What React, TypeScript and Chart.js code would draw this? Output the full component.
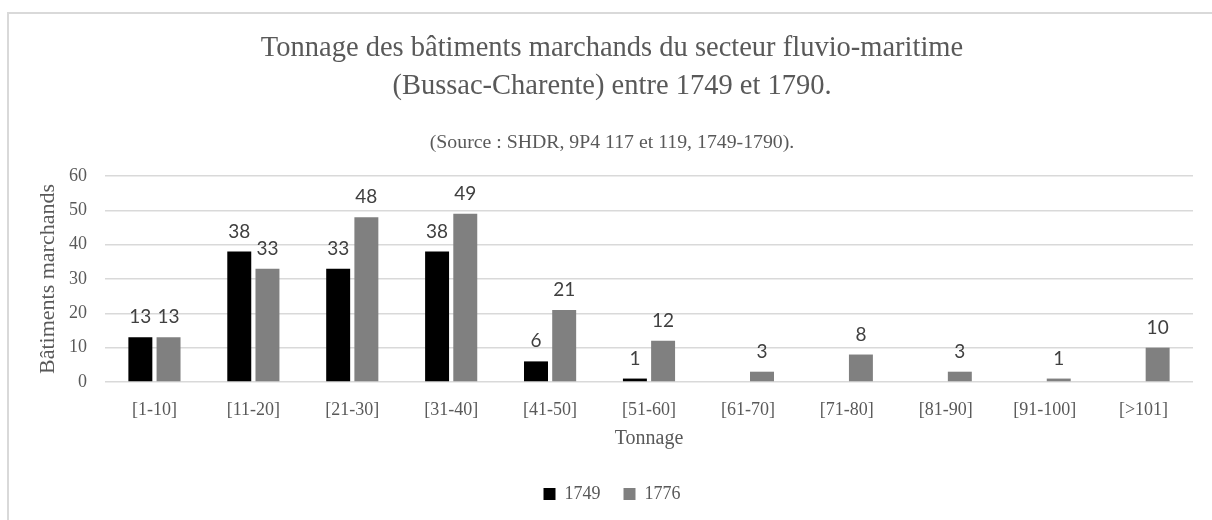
import React, { useEffect, useRef } from "react";
import { Chart, registerables } from "chart.js";

Chart.register(...registerables);

const categories = [
  "[1-10]",
  "[11-20]",
  "[21-30]",
  "[31-40]",
  "[41-50]",
  "[51-60]",
  "[61-70]",
  "[71-80]",
  "[81-90]",
  "[91-100]",
  "[>101]",
];
const series1749: (number | null)[] = [13, 38, 33, 38, 6, 1, null, null, null, null, null];
const series1776: (number | null)[] = [13, 33, 48, 49, 21, 12, 3, 8, 3, 1, 10];
const seriesNames = ["1749", "1776"];
const titleLines = [
  "Tonnage des bâtiments marchands du secteur fluvio-maritime",
  "(Bussac-Charente) entre 1749 et 1790.",
];
const subtitleText = "(Source : SHDR, 9P4 117 et 119, 1749-1790).";
const yAxisTitle = "Bâtiments marchands";
const xAxisTitle = "Tonnage";

const SERIF = "'Liberation Serif', 'Times New Roman', serif";
const TEXT = "#595959";

const dataLabels = {
  id: "dataLabels",
  afterDatasetsDraw(chart: any) {
    const ctx = chart.ctx;
    ctx.save();
    ctx.font = "19px Lato, 'Open Sans', sans-serif";
    ctx.fillStyle = "#404040";
    ctx.textAlign = "center";
    ctx.textBaseline = "alphabetic";
    chart.data.datasets.forEach((ds: any, i: number) => {
      const meta = chart.getDatasetMeta(i);
      meta.data.forEach((bar: any, j: number) => {
        const v = ds.data[j];
        if (v == null) return;
        ctx.fillText(String(v), bar.x, bar.y - 14);
      });
    });
    ctx.restore();
  },
};

export default function App() {
  const ref = useRef<HTMLCanvasElement | null>(null);

  useEffect(() => {
    if (!ref.current) return;
    const chart = new Chart(ref.current, {
      type: "bar",
      data: {
        labels: categories,
        datasets: [
          {
            label: seriesNames[0],
            data: series1749,
            backgroundColor: "#000000",
            barPercentage: 0.85,
            categoryPercentage: 0.57,
          },
          {
            label: seriesNames[1],
            data: series1776,
            backgroundColor: "#808080",
            barPercentage: 0.85,
            categoryPercentage: 0.57,
          },
        ],
      },
      options: {
        responsive: false,
        maintainAspectRatio: false,
        animation: false,
        layout: { padding: { top: 0, left: 31, right: 19, bottom: 7 } },
        plugins: {
          tooltip: { enabled: false },
          title: {
            display: true,
            text: titleLines,
            color: TEXT,
            font: { family: SERIF, size: 28.5, weight: "normal", lineHeight: 38 / 28.5 },
            padding: { top: 30, bottom: 25.2 },
          },
          subtitle: {
            display: true,
            text: subtitleText,
            color: TEXT,
            font: { family: SERIF, size: 19.8, weight: "normal", lineHeight: 1.2 },
            padding: { top: 0, bottom: 21 },
          },
          legend: {
            position: "bottom",
            labels: {
              color: TEXT,
              font: { family: SERIF, size: 18 },
              boxWidth: 12,
              boxHeight: 12,
              padding: 23,
            },
          },
        },
        scales: {
          x: {
            grid: { display: false },
            border: { display: false },
            ticks: {
              color: TEXT,
              font: { family: SERIF, size: 18 },
              padding: 9,
              autoSkip: false,
              maxRotation: 0,
            },
            title: {
              display: true,
              text: xAxisTitle,
              color: TEXT,
              font: { family: SERIF, size: 20 },
              padding: { top: 0, bottom: 11 },
            },
            afterFit(scale: any) {
              scale.height = 80;
            },
          },
          y: {
            min: 0,
            max: 60,
            grid: { color: "#d9d9d9", lineWidth: 1.5, drawTicks: false },
            border: { display: false },
            ticks: {
              stepSize: 10,
              color: TEXT,
              font: { family: SERIF, size: 18 },
              padding: 18,
            },
            title: {
              display: true,
              text: yAxisTitle,
              color: TEXT,
              font: { family: SERIF, size: 22 },
              padding: { top: 4, bottom: 0 },
            },
            afterFit(scale: any) {
              scale.width = 74;
            },
          },
        },
      } as any,
      plugins: [dataLabels],
    });
    return () => chart.destroy();
  }, []);

  return (
    <div
      style={{
        position: "fixed",
        left: 0,
        top: 0,
        width: 1212,
        height: 520,
        overflow: "hidden",
        background: "#ffffff",
      }}
    >
      <div
        style={{
          position: "absolute",
          left: 7,
          top: 12,
          width: 1240,
          height: 540,
          border: "2px solid #d9d9d9",
          boxSizing: "border-box",
        }}
      />
      <canvas
        ref={ref}
        width={1212}
        height={520}
        style={{ position: "absolute", left: 0, top: 0, width: 1212, height: 520 }}
      />
    </div>
  );
}
